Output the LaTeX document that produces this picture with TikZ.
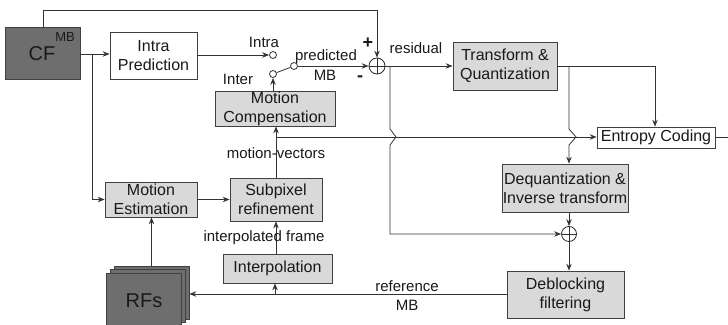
\documentclass[tikz,border=0pt]{standalone}
\usepackage{fontspec}
\setmainfont{Liberation Sans}
\usetikzlibrary{arrows.meta}
\begin{document}
\begin{tikzpicture}[x=1pt,y=-1pt,
  every node/.style={font=\fontsize{16}{19}\selectfont, text=black!90, inner sep=0pt},
  box/.style={draw=black!75, line width=0.8pt, align=center, fill=white},
  gbox/.style={box, fill=black!15},
  dbox/.style={box, fill=black!57},
  lbl/.style={font=\fontsize{15}{17}\selectfont},
  arr/.style={-{Stealth[length=7pt,width=5.5pt,inset=2.5pt]}},
  ln/.style={draw=black!80, line width=0.8pt},
  term/.style={circle, draw=black!80, line width=0.8pt, minimum size=7pt, fill=white},
  sumc/.style={circle, draw=black!85, line width=0.8pt, fill=white}
]
\useasboundingbox (0,0) rectangle (728,324);

% boxes
\node[dbox, minimum width=75pt, minimum height=52pt] (cf) at (42.5,53) {};
\node[font=\fontsize{20}{20}\selectfont] (cft) at (42,54) {CF};
\node[font=\fontsize{13}{13}\selectfont] (cfmb) at (65,37) {MB};
\node[box, minimum width=87pt, minimum height=47pt] (ip) at (153.5,55.5) {Intra\\Prediction};
\node[gbox, minimum width=104pt, minimum height=48pt] (tq) at (505,66) {Transform \&\\Quantization};
\node[box, minimum width=118pt, minimum height=21pt] (ec) at (656,137.5) {Entropy Coding};
\node[gbox, minimum width=120pt, minimum height=35pt] (mc) at (275,108.5) {Motion\\Compensation};
\node[gbox, minimum width=92pt, minimum height=35pt] (me) at (151,199.5) {Motion\\Estimation};
\node[gbox, minimum width=92pt, minimum height=43pt] (sp) at (276,199.5) {Subpixel\\refinement};
\node[gbox, minimum width=109pt, minimum height=29pt] (in) at (277.5,268.5) {Interpolation};
\node[gbox, minimum width=126pt, minimum height=48pt] (dq) at (565,188) {Dequantization \&\\Inverse transform};
\node[gbox, minimum width=117pt, minimum height=47pt] (db) at (565.5,294.5) {Deblocking\\filtering};
\node[dbox, minimum width=75pt, minimum height=53pt] (rf3) at (151.5,292.5) {};
\node[dbox, minimum width=75pt, minimum height=53pt] (rf2) at (147.5,296) {};
\node[dbox, minimum width=75pt, minimum height=53pt, font=\fontsize{20}{20}\selectfont] (rf1) at (143.5,299.5) {};
\node[font=\fontsize{20}{20}\selectfont] (rft) at (144,301) {RFs};

% adders
\node[sumc, minimum size=16pt] (s1) at (377,66) {};
\draw[ln] (s1.north) -- (s1.south) (s1.west) -- (s1.east);
\node[sumc, minimum size=15pt] (s2) at (569,234) {};
\draw[ln] (s2.north) -- (s2.south) (s2.west) -- (s2.east);

% switch terminals
\node[term] (ti) at (273,55) {};
\node[term] (tn) at (273,74) {};
\node[term] (tp) at (294,66) {};
\draw[ln] (tn) -- (tp);

% coordinates
\coordinate (c0) at (43,10);
\coordinate (c1) at (377,10);
\coordinate (b1) at (92,54);
\coordinate (r1) at (390,66);
\coordinate (k1) at (655,66);
\coordinate (k2) at (569,66);
\coordinate (mv) at (276,137);
\coordinate (lb) at (275,294);
\coordinate (out) at (728,137.5);

% connectors
\draw[ln,arr] (cf.north -| c0) -- (c0) -- (c1) -- (s1.north);
\draw[ln,arr] (cf.east |- b1) -- (ip.west |- b1);
\draw[ln,arr] (b1) -- (b1 |- me.west) -- (me.west);
\draw[ln,arr] (ip.east |- ti) -- (ti.west);
\draw[ln,arr] (mc.north -| tn) -- (tn.south);
\draw[ln,arr] (tp.east) -- (s1.west);
\draw[ln,arr] (s1.east) -- (tq.west);
\draw[ln,arr] (r1) -- (390,129) -- (396,137) -- (390,145) -- (390,234) -- (s2.west);
\draw[ln,arr] (tq.east) -- (k1) -- (k1 |- ec.north);
\draw[ln,arr] (k2) -- (569,129) -- (576,137) -- (569,145) -- (k2 |- dq.north);
\draw[ln,arr] (k2 |- dq.south) -- (s2.north);
\draw[ln,arr] (s2.south) -- (k2 |- db.north);
\draw[ln,arr] (sp.north) -- (mc.south -| sp.north);
\draw[ln,arr] (mv) -- (mv -| ec.west);
\draw[ln] (ec.east) -- (out);
\draw[ln,arr] (me.east) -- (me.east -| sp.west);
\draw[ln,arr] (in.north -| sp.south) -- (sp.south);
\draw[ln,arr] (rf3.north) -- (rf3.north |- me.south);
\draw[ln,arr] (db.west |- lb) -- (lb -| rf3.east);
\draw[ln,arr] (lb) -- (lb |- in.south);

% labels
\node[lbl] (l1) at (264,42) {Intra};
\node[lbl] (l2) at (238,79) {Inter};
\node[lbl] (l3) at (326,57) {predicted};
\node[lbl] (l4) at (325,75) {MB};
\node[font=\bfseries\fontsize{18}{18}\selectfont] (l5) at (368,43) {+};
\node[font=\bfseries\fontsize{18}{18}\selectfont] (l6) at (360,79) {-};
\node[lbl] (l7) at (416,48) {residual};
\node[lbl] (l8) at (276,153) {motion-vectors};
\node[lbl] (l9) at (264,238) {interpolated frame};
\node[lbl] (l10) at (407,286) {reference};
\node[lbl] (l11) at (407,305) {MB};
\end{tikzpicture}
\end{document}
